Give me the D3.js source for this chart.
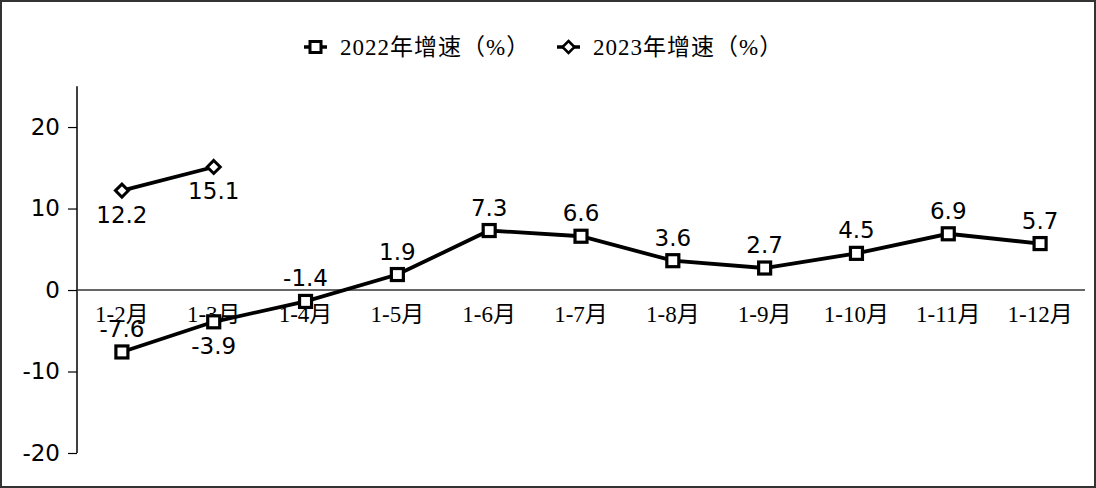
<!DOCTYPE html>
<html><head><meta charset="utf-8">
<script src="https://cdn.jsdelivr.net/npm/d3@7"></script>
<style>
html,body{margin:0;padding:0;background:#fff;}
svg{display:block;}
</style></head>
<body>
<svg id="chart" width="1096" height="488"></svg>
<script>
const categories = ["1-2月","1-3月","1-4月","1-5月","1-6月","1-7月","1-8月","1-9月","1-10月","1-11月","1-12月"];
const values2022 = [-7.6,-3.9,-1.4,1.9,7.3,6.6,3.6,2.7,4.5,6.9,5.7];
const values2023 = [12.2,15.1];
const yTicks = [20,10,0,-10,-20];
const seriesNames = ["2022年增速（%）","2023年增速（%）"];
// label placement: "above" or "below" the point
const pos2022 = ["above","below","above","above","above","above","above","above","above","above","above"];
const pos2023 = ["below","below"];

const svg = d3.select("#chart");
const W = 1096, H = 488;
const numFont = "'DejaVu Sans', Verdana, sans-serif";
const catFont = "'Liberation Serif', 'DejaVu Serif', 'Noto Sans CJK SC', serif";

svg.append("rect").attr("x",1).attr("y",1).attr("width",W-2).attr("height",H-2)
  .attr("fill","#fff").attr("stroke","#333").attr("stroke-width",2);

const x = d3.scaleBand().domain(categories).range([76,1086]);
const y = d3.scaleLinear().domain([-20,25]).range([453,86.3]);
const cx = d => x(d) + x.bandwidth()/2;

// y axis
const yAxis = d3.axisLeft(y).tickValues(yTicks).tickFormat(d=>String(d))
  .tickSize(9).tickSizeOuter(0).tickPadding(8);
const gy = svg.append("g").attr("transform","translate(77,0)").call(yAxis);
gy.select(".domain").attr("stroke","#000").attr("stroke-width",1.5).attr("d","M0,"+y(25)+"V"+y(-20));
gy.selectAll(".tick line").attr("stroke","#000").attr("stroke-width",1.2);
gy.selectAll(".tick text").attr("font-family",numFont).attr("font-size",23).attr("fill","#000");

// zero line
svg.append("line").attr("x1",77).attr("x2",1085).attr("y1",y(0)).attr("y2",y(0))
  .attr("stroke","#333").attr("stroke-width",1.5);

// category labels
svg.append("g").selectAll("text").data(categories).join("text")
  .attr("x",d=>cx(d)).attr("y",y(0)+32).attr("text-anchor","middle")
  .attr("font-family",catFont).attr("font-size",23).attr("fill","#000").text(d=>d);

const line = d3.line().x(d=>cx(d[0])).y(d=>y(d[1]));

// 2022 series
const d2022 = categories.map((c,i)=>[c,values2022[i]]);
svg.append("path").datum(d2022).attr("d",line).attr("fill","none")
  .attr("stroke","#000").attr("stroke-width",3.8);
svg.append("g").selectAll("rect").data(d2022).join("rect")
  .attr("x",d=>cx(d[0])-6).attr("y",d=>y(d[1])-6).attr("width",12).attr("height",12)
  .attr("fill","#fff").attr("stroke","#000").attr("stroke-width",3.2);

// 2023 series
const d2023 = values2023.map((v,i)=>[categories[i],v]);
svg.append("path").datum(d2023).attr("d",line).attr("fill","none")
  .attr("stroke","#000").attr("stroke-width",3.8);
const diamond = (px,py,r)=>`M${px},${py-r}L${px+r},${py}L${px},${py+r}L${px-r},${py}Z`;
svg.append("g").selectAll("path").data(d2023).join("path")
  .attr("d",d=>diamond(cx(d[0]),y(d[1]),6.5))
  .attr("fill","#fff").attr("stroke","#000").attr("stroke-width",3);

// data labels
function labels(data,pos){
  svg.append("g").selectAll("text").data(data).join("text")
    .attr("x",d=>cx(d[0])).attr("y",(d,i)=>y(d[1]) + (pos[i]==="above"?-15:32))
    .attr("text-anchor","middle").attr("font-family",numFont).attr("font-size",23)
    .attr("fill","#000").text(d=>d[1].toFixed(1));
}
labels(d2022,pos2022);
labels(d2023,pos2023);

// legend
const lg = svg.append("g");
const legY = 47;
function legendItem(x0, type, name){
  lg.append("line").attr("x1",x0).attr("x2",x0+23).attr("y1",legY).attr("y2",legY)
    .attr("stroke","#000").attr("stroke-width",3.5);
  if(type==="square"){
    lg.append("rect").attr("x",x0+6).attr("y",legY-5.5).attr("width",11).attr("height",11)
      .attr("fill","#fff").attr("stroke","#000").attr("stroke-width",3);
  } else {
    lg.append("path").attr("d",diamond(x0+11.5,legY,6))
      .attr("fill","#fff").attr("stroke","#000").attr("stroke-width",2.5);
  }
  lg.append("text").attr("x",x0+36).attr("y",legY+8).attr("font-family",catFont)
    .attr("font-size",23).attr("letter-spacing",1).attr("fill","#000").text(name);
}
legendItem(304,"square",seriesNames[0]);
legendItem(557,"diamond",seriesNames[1]);
</script>
</body></html>
